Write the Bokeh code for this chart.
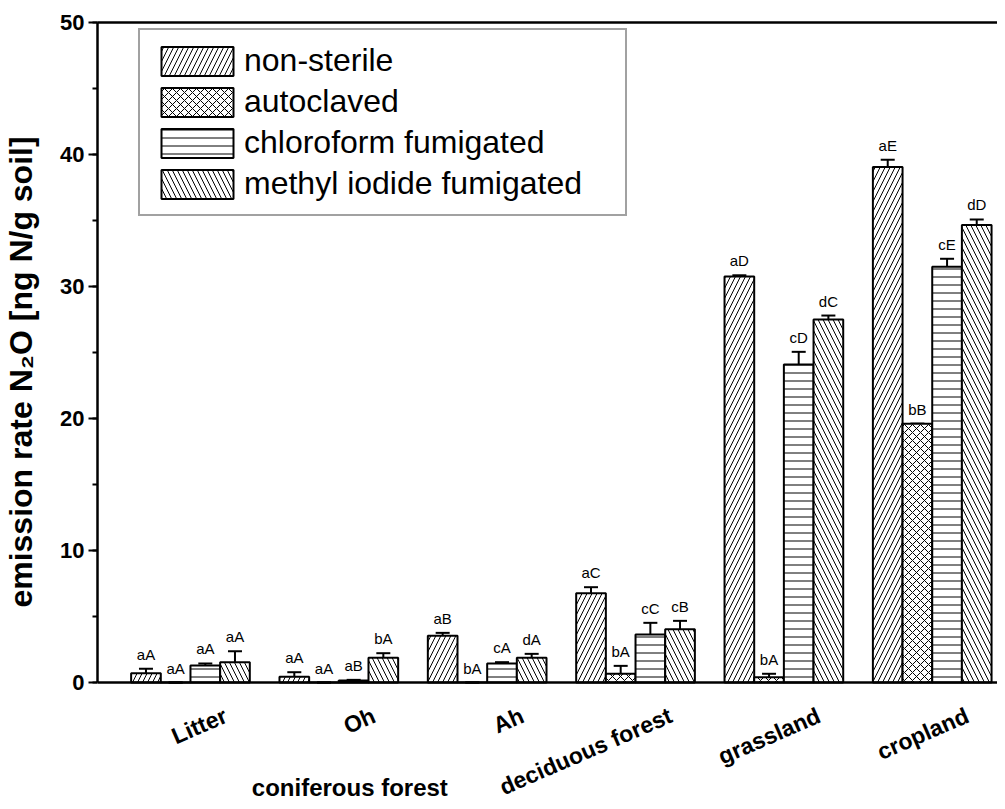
from bokeh.plotting import figure
from bokeh.models import (ColumnDataSource, Whisker, TeeHead, FixedTicker, SingleIntervalTicker,
                          Legend, LegendItem, Label, LabelSet, LinearAxis, Range1d, Span)
from bokeh.core.properties import value
from bokeh.embed import file_html
from bokeh.resources import INLINE

# ---------------- data ----------------
groups = ["Litter", "Oh", "Ah", "deciduous forest", "grassland", "cropland"]
series_names = ["non-sterile", "autoclaved", "chloroform fumigated", "methyl iodide fumigated"]

non_sterile = [0.70, 0.43, 3.54, 6.77, 30.75, 39.05]
non_sterile_err = [0.35, 0.35, 0.22, 0.45, 0.10, 0.55]
autoclaved = [0.0, 0.0, 0.0, 0.66, 0.40, 19.6]
autoclaved_err = [0.0, 0.0, 0.0, 0.60, 0.26, 0.0]
chloroform = [1.29, 0.15, 1.44, 3.64, 24.1, 31.5]
chloroform_err = [0.15, 0.05, 0.10, 0.88, 0.95, 0.60]
methyl_iodide = [1.54, 1.87, 1.87, 4.04, 27.5, 34.65]
methyl_iodide_err = [0.83, 0.35, 0.30, 0.63, 0.30, 0.43]

labels_non_sterile = ["aA", "aA", "aB", "aC", "aD", "aE"]
labels_autoclaved = ["aA", "aA", "bA", "bA", "bA", "bB"]
labels_chloroform = ["aA", "aB", "cA", "cC", "cD", "cE"]
labels_methyl = ["aA", "bA", "dA", "cB", "dC", "dD"]

group_label = "coniferous forest"
y_title = "emission rate N\u2082O [ng N/g soil]"
y_max = 50

# ---------------- layout / styling ----------------
FONT = "Liberation Sans"
W, H = 997, 801
BORDER_TOP, BORDER_LEFT = 22, 89
PLOT_PX = 660                      # pixels from 0 to y_max
px_per_unit = PLOT_PX / y_max
y_min = -(H - BORDER_TOP - PLOT_PX) / px_per_unit   # room below the axis for the labels

hatches = ["/", "x", "-", "\\"]
hatch_scales = [10, 8, 8, 10]
offsets = [-0.3, -0.1, 0.1, 0.3]
bar_w = 0.2

p = figure(width=W, height=H, output_backend="svg", toolbar_location=None,
           x_axis_location=None,
           x_range=Range1d(0.3733, 6.44), y_range=Range1d(y_min, y_max),
           min_border_left=BORDER_LEFT, min_border_right=0, min_border_top=BORDER_TOP,
           min_border_bottom=0)
p.background_fill_color = "white"
p.border_fill_color = "white"
p.outline_line_color = None
p.grid.visible = False

centers = list(range(1, len(groups) + 1))
vals = [non_sterile, autoclaved, chloroform, methyl_iodide]
errs = [non_sterile_err, autoclaved_err, chloroform_err, methyl_iodide_err]
labs = [labels_non_sterile, labels_autoclaved, labels_chloroform, labels_methyl]

items = []
for i in range(4):
    xs = [c + offsets[i] for c in centers]
    src = ColumnDataSource(dict(
        x=xs, top=vals[i],
        upper=[v + e for v, e in zip(vals[i], errs[i])],
        lower=[v - e for v, e in zip(vals[i], errs[i])],
        lab=labs[i],
    ))
    r = p.vbar(x="x", top="top", bottom=0, width=bar_w, source=src, fill_color="white",
               line_color="black", line_width=2, hatch_pattern=hatches[i],
               hatch_color="black", hatch_scale=hatch_scales[i], hatch_weight=1)
    items.append(LegendItem(label=series_names[i], renderers=[r]))
    w = Whisker(source=src, base="x", upper="upper", lower="lower",
                line_color="black", line_width=2,
                upper_head=TeeHead(size=14, line_width=2, line_color="black"),
                lower_head=TeeHead(size=14, line_width=2, line_color="black"))
    p.add_layout(w)
    p.text(x="x", y="upper", text="lab", source=src, text_align="center",
           text_baseline="bottom", y_offset=-6, text_font_size="15px",
           text_font=value(FONT), text_color="black")

# x axis line at zero
p.add_layout(Span(location=0, dimension="width", line_color="black", line_width=2.5))

legend = Legend(items=items, location=(41, H - BORDER_TOP - 194), padding=12, spacing=4,
                glyph_width=90, glyph_height=36, label_standoff=2, label_width=369,
                label_text_font=FONT, label_text_font_size="32px", label_text_color="black",
                border_line_color="#444444", border_line_width=2,
                background_fill_color="white", background_fill_alpha=1.0)
p.add_layout(legend, "center")

# y axis
ya = p.yaxis[0]
ya.bounds = (0, y_max)
ya.ticker = SingleIntervalTicker(interval=10, num_minor_ticks=2)
ya.axis_label = "\u00a0" * 9 + y_title
ya.axis_label_text_font = FONT
ya.axis_label_text_font_style = "bold"
ya.axis_label_text_font_size = "32px"
ya.axis_label_text_color = "black"
ya.axis_label_standoff = 18
ya.major_label_text_font = FONT
ya.major_label_text_font_style = "bold"
ya.major_label_text_font_size = "22px"
ya.major_label_text_color = "black"
ya.major_label_standoff = 4
ya.axis_line_width = 2.5
ya.major_tick_line_width = 2
ya.minor_tick_line_width = 2
ya.major_tick_out = 9
ya.major_tick_in = 0
ya.minor_tick_out = 5
ya.minor_tick_in = 0

# category names, rotated
cat_src = ColumnDataSource(dict(x=centers, name=groups))
p.add_layout(LabelSet(x="x", y=-1.5, text="name", source=cat_src, x_offset=30,
                      angle=0.41, text_align="right", text_baseline="top",
                      text_font=value(FONT), text_font_style="bold", text_font_size="23px",
                      text_color="black"))

# top frame line
top_axis = LinearAxis(major_tick_line_color=None, minor_tick_line_color=None,
                      major_label_text_font_size="0px", major_label_standoff=0,
                      axis_line_width=2.5, ticker=FixedTicker(ticks=[]))
p.add_layout(top_axis, "above")

p.add_layout(Label(x=2, y=-7.95, x_offset=11,
                   text=group_label, text_align="center", text_baseline="middle",
                   text_font=FONT, text_font_style="bold", text_font_size="24px",
                   text_color="black"))

open("out.html", "w").write(file_html(p, INLINE))
